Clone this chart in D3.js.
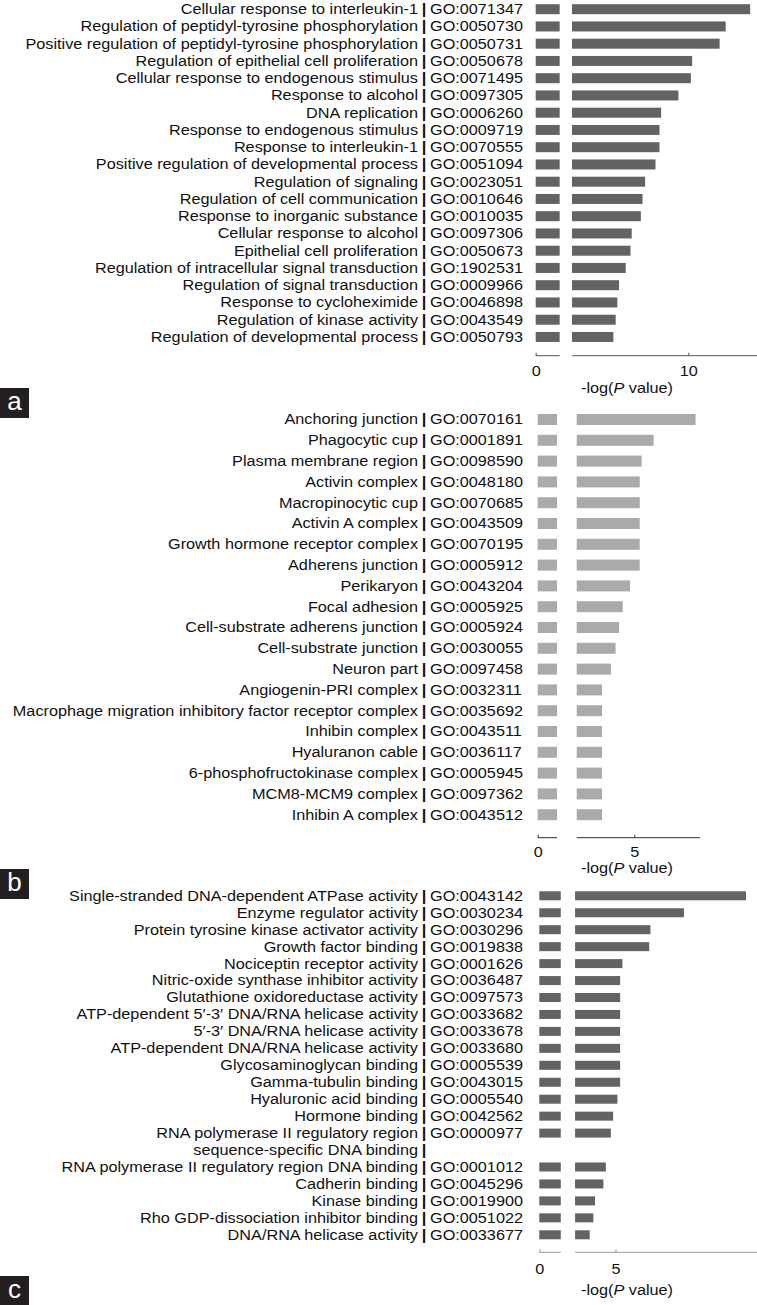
<!DOCTYPE html>
<html lang="en">
<head>
<meta charset="utf-8">
<title>GO enrichment</title>
<style>
  body { margin: 0; background: #fff; }
  text { font-family: "Liberation Sans", Arial, sans-serif; fill: #111; }
</style>
</head>
<body>
<div id="chart"></div>
<script src="https://cdn.jsdelivr.net/npm/d3@7/dist/d3.min.js"></script>
<script>
var width = 757, height = 1305;
var stretch = 1.16;   // the labels in the figure are a bit wide

// panel a
var termsA = [
  "Cellular response to interleukin-1",
  "Regulation of peptidyl-tyrosine phosphorylation",
  "Positive regulation of peptidyl-tyrosine phosphorylation",
  "Regulation of epithelial cell proliferation",
  "Cellular response to endogenous stimulus",
  "Response to alcohol",
  "DNA replication",
  "Response to endogenous stimulus",
  "Response to interleukin-1",
  "Positive regulation of developmental process",
  "Regulation of signaling",
  "Regulation of cell communication",
  "Response to inorganic substance",
  "Cellular response to alcohol",
  "Epithelial cell proliferation",
  "Regulation of intracellular signal transduction",
  "Regulation of signal transduction",
  "Response to cycloheximide",
  "Regulation of kinase activity",
  "Regulation of developmental process"
];
var goA = ["GO:0071347", "GO:0050730", "GO:0050731", "GO:0050678", "GO:0071495",
  "GO:0097305", "GO:0006260", "GO:0009719", "GO:0070555", "GO:0051094",
  "GO:0023051", "GO:0010646", "GO:0010035", "GO:0097306", "GO:0050673",
  "GO:1902531", "GO:0009966", "GO:0046898", "GO:0043549", "GO:0050793"];
var valuesA = [14.05, 12.45, 12.05, 10.25, 10.17, 9.35, 8.22, 8.11, 8.11, 7.85,
  7.17, 7.0, 6.89, 6.29, 6.21, 5.9, 5.46, 5.35, 5.24, 5.09];
var ticksA = [0, 10];

// panel b
var termsB = [
  "Anchoring junction",
  "Phagocytic cup",
  "Plasma membrane region",
  "Activin complex",
  "Macropinocytic cup",
  "Activin A complex",
  "Growth hormone receptor complex",
  "Adherens junction",
  "Perikaryon",
  "Focal adhesion",
  "Cell-substrate adherens junction",
  "Cell-substrate junction",
  "Neuron part",
  "Angiogenin-PRI complex",
  "Macrophage migration inhibitory factor receptor complex",
  "Inhibin complex",
  "Hyaluranon cable",
  "6-phosphofructokinase complex",
  "MCM8-MCM9 complex",
  "Inhibin A complex"
];
var goB = ["GO:0070161", "GO:0001891", "GO:0098590", "GO:0048180", "GO:0070685",
  "GO:0043509", "GO:0070195", "GO:0005912", "GO:0043204", "GO:0005925",
  "GO:0005924", "GO:0030055", "GO:0097458", "GO:0032311", "GO:0035692",
  "GO:0043511", "GO:0036117", "GO:0005945", "GO:0097362", "GO:0043512"];
var valuesB = [8.17, 6.0, 5.38, 5.28, 5.28, 5.28, 5.28, 5.28, 4.78, 4.4,
  4.21, 4.03, 3.79, 3.33, 3.33, 3.33, 3.33, 3.33, 3.33, 3.33];
var ticksB = [0, 5];

// panel c
var termsC = [
  "Single-stranded DNA-dependent ATPase activity",
  "Enzyme regulator activity",
  "Protein tyrosine kinase activator activity",
  "Growth factor binding",
  "Nociceptin receptor activity",
  "Nitric-oxide synthase inhibitor activity",
  "Glutathione oxidoreductase activity",
  "ATP-dependent 5\u2032-3\u2032 DNA/RNA helicase activity",
  "5\u2032-3\u2032 DNA/RNA helicase activity",
  "ATP-dependent DNA/RNA helicase activity",
  "Glycosaminoglycan binding",
  "Gamma-tubulin binding",
  "Hyaluronic acid binding",
  "Hormone binding",
  "RNA polymerase II regulatory region\nsequence-specific DNA binding",
  "RNA polymerase II regulatory region DNA binding",
  "Cadherin binding",
  "Kinase binding",
  "Rho GDP-dissociation inhibitor binding",
  "DNA/RNA helicase activity"
];
var goC = ["GO:0043142", "GO:0030234", "GO:0030296", "GO:0019838", "GO:0001626",
  "GO:0036487", "GO:0097573", "GO:0033682", "GO:0033678", "GO:0033680",
  "GO:0005539", "GO:0043015", "GO:0005540", "GO:0042562", "GO:0000977",
  "GO:0001012", "GO:0045296", "GO:0019900", "GO:0051022", "GO:0033677"];
var valuesC = [13.58, 9.5, 7.3, 7.22, 5.46, 5.31, 5.31, 5.31, 5.31, 5.31,
  5.31, 5.31, 5.13, 4.85, 4.7, 4.37, 4.21, 3.66, 3.55, 3.31];
var ticksC = [0, 5];

var panels = [
  {name: "a", terms: termsA, go: goA, values: valuesA, ticks: ticksA,
   x0: 535.7, xEnd: 757, xmax: 14.5, brk: [1.57, 2.38],
   top: 9.2, step: 17.25, barH: 10, axisY: 355.7, tickPad: 10, titleY: 388,
   boxY: 388, barColor: "#636363", axisColor: "#555"},
  {name: "b", terms: termsB, go: goB, values: valuesB, ticks: ticksB,
   x0: 537.7, xEnd: 700, xmax: 8.4, brk: [1, 2.02],
   top: 419.5, step: 20.8, barH: 11, axisY: 837.7, tickPad: 9, titleY: 868,
   boxY: 869, barColor: "#aaaaaa", axisColor: "#333"},
  {name: "c", terms: termsC, go: goC, values: valuesC, ticks: ticksC,
   x0: 539.3, xEnd: 757, xmax: 14.3, brk: [1.41, 2.35],
   top: 895.8, step: 16.95, barH: 9, axisY: 1252.3, tickPad: 12, titleY: 1290,
   boxY: 1276, barColor: "#636363", axisColor: "#999"}
];

var sepX = 424;

var svg = d3.select("#chart").append("svg")
  .attr("width", width).attr("height", height);

function wide(x, y) {
  return "translate(" + x + "," + y + ") scale(" + stretch + ",1)";
}

panels.forEach(function(p) {
  var g = svg.append("g");

  var x = d3.scaleLinear().domain([0, p.xmax]).range([p.x0, p.xEnd]);

  // rows: a two-line term takes two slots
  var rows = [];
  var slot = 0;
  p.terms.forEach(function(t, i) {
    var lines = t.split("\n");
    rows.push({lines: lines, go: p.go[i], value: p.values[i], slot: slot});
    slot += lines.length;
  });
  var y = d3.scaleLinear().domain([0, 1]).range([p.top, p.top + p.step]);

  // bars, left stub and right part of the broken axis
  g.selectAll(".stub").data(rows).enter().append("rect")
    .attr("x", x(0))
    .attr("width", x(p.brk[0]) - x(0))
    .attr("y", function(d) { return y(d.slot) - p.barH / 2; })
    .attr("height", p.barH)
    .attr("fill", p.barColor);
  g.selectAll(".bar").data(rows).enter().append("rect")
    .attr("x", x(p.brk[1]))
    .attr("width", function(d) { return x(d.value) - x(p.brk[1]); })
    .attr("y", function(d) { return y(d.slot) - p.barH / 2; })
    .attr("height", p.barH)
    .attr("fill", p.barColor);

  // labels
  rows.forEach(function(d) {
    d.lines.forEach(function(line, k) {
      var yy = y(d.slot + k);
      g.append("text").attr("transform", wide(sepX - 6, yy))
        .attr("dy", "0.35em").style("font-size", "14px")
        .attr("text-anchor", "end").text(line);
      g.append("text").attr("transform", wide(sepX, yy))
        .attr("dy", "0.35em").style("font-size", "14px")
        .style("font-weight", "bold")
        .attr("text-anchor", "middle").text("|");
      if (k === 0) {
        g.append("text").attr("transform", wide(sepX + 6, yy))
          .attr("dy", "0.35em").style("font-size", "14px")
          .text(d.go);
      }
    });
  });

  // axis
  var ax = g.append("g").attr("transform", "translate(0," + p.axisY + ")")
    .call(d3.axisBottom(x).tickValues(p.ticks).tickSize(-3)
      .tickPadding(p.tickPad).tickFormat(d3.format("d")));
  ax.select(".domain").remove();
  ax.selectAll(".tick line").attr("stroke", p.axisColor);
  ax.selectAll(".tick text")
    .attr("transform", "scale(" + stretch + ",1)")
    .style("font-size", "14px").style("font-family", null)
    .attr("fill", "#111");
  ax.append("line").attr("x1", x(0)).attr("x2", x(p.brk[0]))
    .attr("stroke", p.axisColor);
  ax.append("line").attr("x1", x(p.brk[1])).attr("x2", p.xEnd)
    .attr("stroke", p.axisColor);

  var title = g.append("text").attr("transform", wide(627, p.titleY))
    .attr("dy", "0.35em").attr("text-anchor", "middle")
    .style("font-size", "14px");
  title.append("tspan").text("-log(");
  title.append("tspan").style("font-style", "italic").text("P");
  title.append("tspan").text(" value)");

  // panel letter
  g.append("rect").attr("x", 0).attr("y", p.boxY)
    .attr("width", 29).attr("height", 30).attr("fill", "#231f20");
  g.append("text").attr("x", 14.5).attr("y", p.boxY + 22)
    .attr("text-anchor", "middle").style("font-size", "26px")
    .style("fill", "#fff").text(p.name);
});
</script>
</body>
</html>
